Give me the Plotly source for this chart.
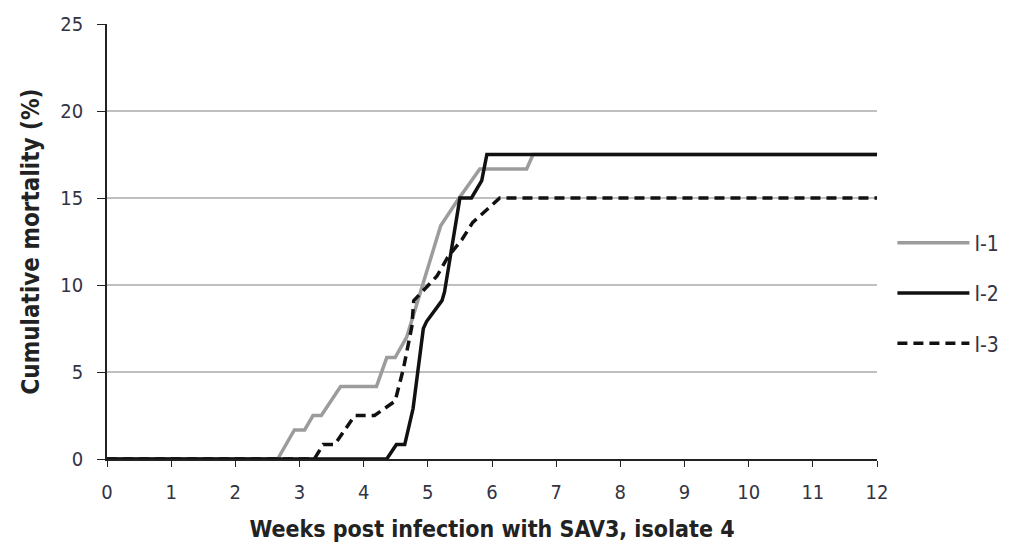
import plotly.graph_objects as go

# Weeks post infection and cumulative mortality (%) for each tank
i1_weeks = [0, 2.66, 2.92, 3.08, 3.21, 3.34, 3.64, 4.20, 4.36, 4.49, 4.67, 4.92, 5.20, 5.45, 5.81, 6.54, 6.64, 12]
i1_mort = [0, 0, 1.67, 1.67, 2.5, 2.5, 4.17, 4.17, 5.83, 5.83, 7.0, 10.0, 13.4, 14.8, 16.67, 16.67, 17.5, 17.5]

i2_weeks = [0, 4.36, 4.51, 4.64, 4.77, 4.85, 4.93, 4.98, 5.22, 5.26, 5.50, 5.68, 5.84, 5.92, 12]
i2_mort = [0, 0, 0.83, 0.83, 2.9, 5.2, 7.5, 7.9, 9.1, 9.6, 15.0, 15.0, 16.0, 17.5, 17.5]

i3_weeks = [0, 3.23, 3.37, 3.55, 3.86, 4.17, 4.49, 4.62, 4.75, 4.78, 5.14, 5.31, 5.53, 5.70, 5.94, 6.12, 12]
i3_mort = [0, 0, 0.83, 0.83, 2.5, 2.5, 3.33, 5.2, 7.6, 9.1, 10.5, 11.6, 12.6, 13.6, 14.4, 15.0, 15.0]

series_names = ["I-1", "I-2", "I-3"]
x_ticks = list(range(0, 13))
y_ticks = [0, 5, 10, 15, 20, 25]

FONT = "DejaVu Sans Condensed, Liberation Sans Narrow, sans-serif"

fig = go.Figure()
fig.add_trace(go.Scatter(x=i1_weeks, y=i1_mort, mode="lines", name=series_names[0],
                         legendgroup="a", line=dict(color="#9c9c9c", width=3.5)))
fig.add_trace(go.Scatter(x=i2_weeks, y=i2_mort, mode="lines", name=series_names[1],
                         legendgroup="b", line=dict(color="#111111", width=3.5)))
fig.add_trace(go.Scatter(x=i3_weeks, y=i3_mort, mode="lines", name=series_names[2],
                         legendgroup="c", line=dict(color="#111111", width=3.5, dash="10px,6px")))

fig.update_layout(
    width=1021, height=550,
    margin=dict(l=107, r=144, t=20, b=91),
    paper_bgcolor="white", plot_bgcolor="white",
    font=dict(family=FONT, color="#333333", size=16),
    showlegend=True,
    legend=dict(x=1.02, y=0.3815, xanchor="left", yanchor="middle",
                font=dict(size=21, color="#333344"), itemwidth=72,
                tracegroupgap=20, bgcolor="rgba(0,0,0,0)"),
    xaxis=dict(range=[0, 12], tickvals=x_ticks, ticktext=[str(v) for v in x_ticks],
               showgrid=False, zeroline=False, showline=True, linecolor="#222222", linewidth=1.5,
               ticks="outside", ticklen=6, tickcolor="#222222", ticklabelstandoff=8,
               tickfont=dict(size=20, color="#333344"),
               title=dict(text="<b>Weeks post infection with SAV3, isolate 4</b>",
                          font=dict(size=23, color="#222222"), standoff=18)),
    yaxis=dict(range=[0, 25], tickvals=y_ticks, ticktext=[str(v) for v in y_ticks],
               showgrid=True, gridcolor="#bfbfbf", gridwidth=1.5, zeroline=False,
               showline=True, linecolor="#222222", linewidth=1.5,
               ticks="outside", ticklen=8, tickcolor="#222222", ticklabelstandoff=10,
               tickfont=dict(size=20, color="#333344"),
               title=dict(text="<b>Cumulative mortality (%)</b>",
                          font=dict(size=24, color="#222222"), standoff=14)),
)

fig.write_html("out.html")
